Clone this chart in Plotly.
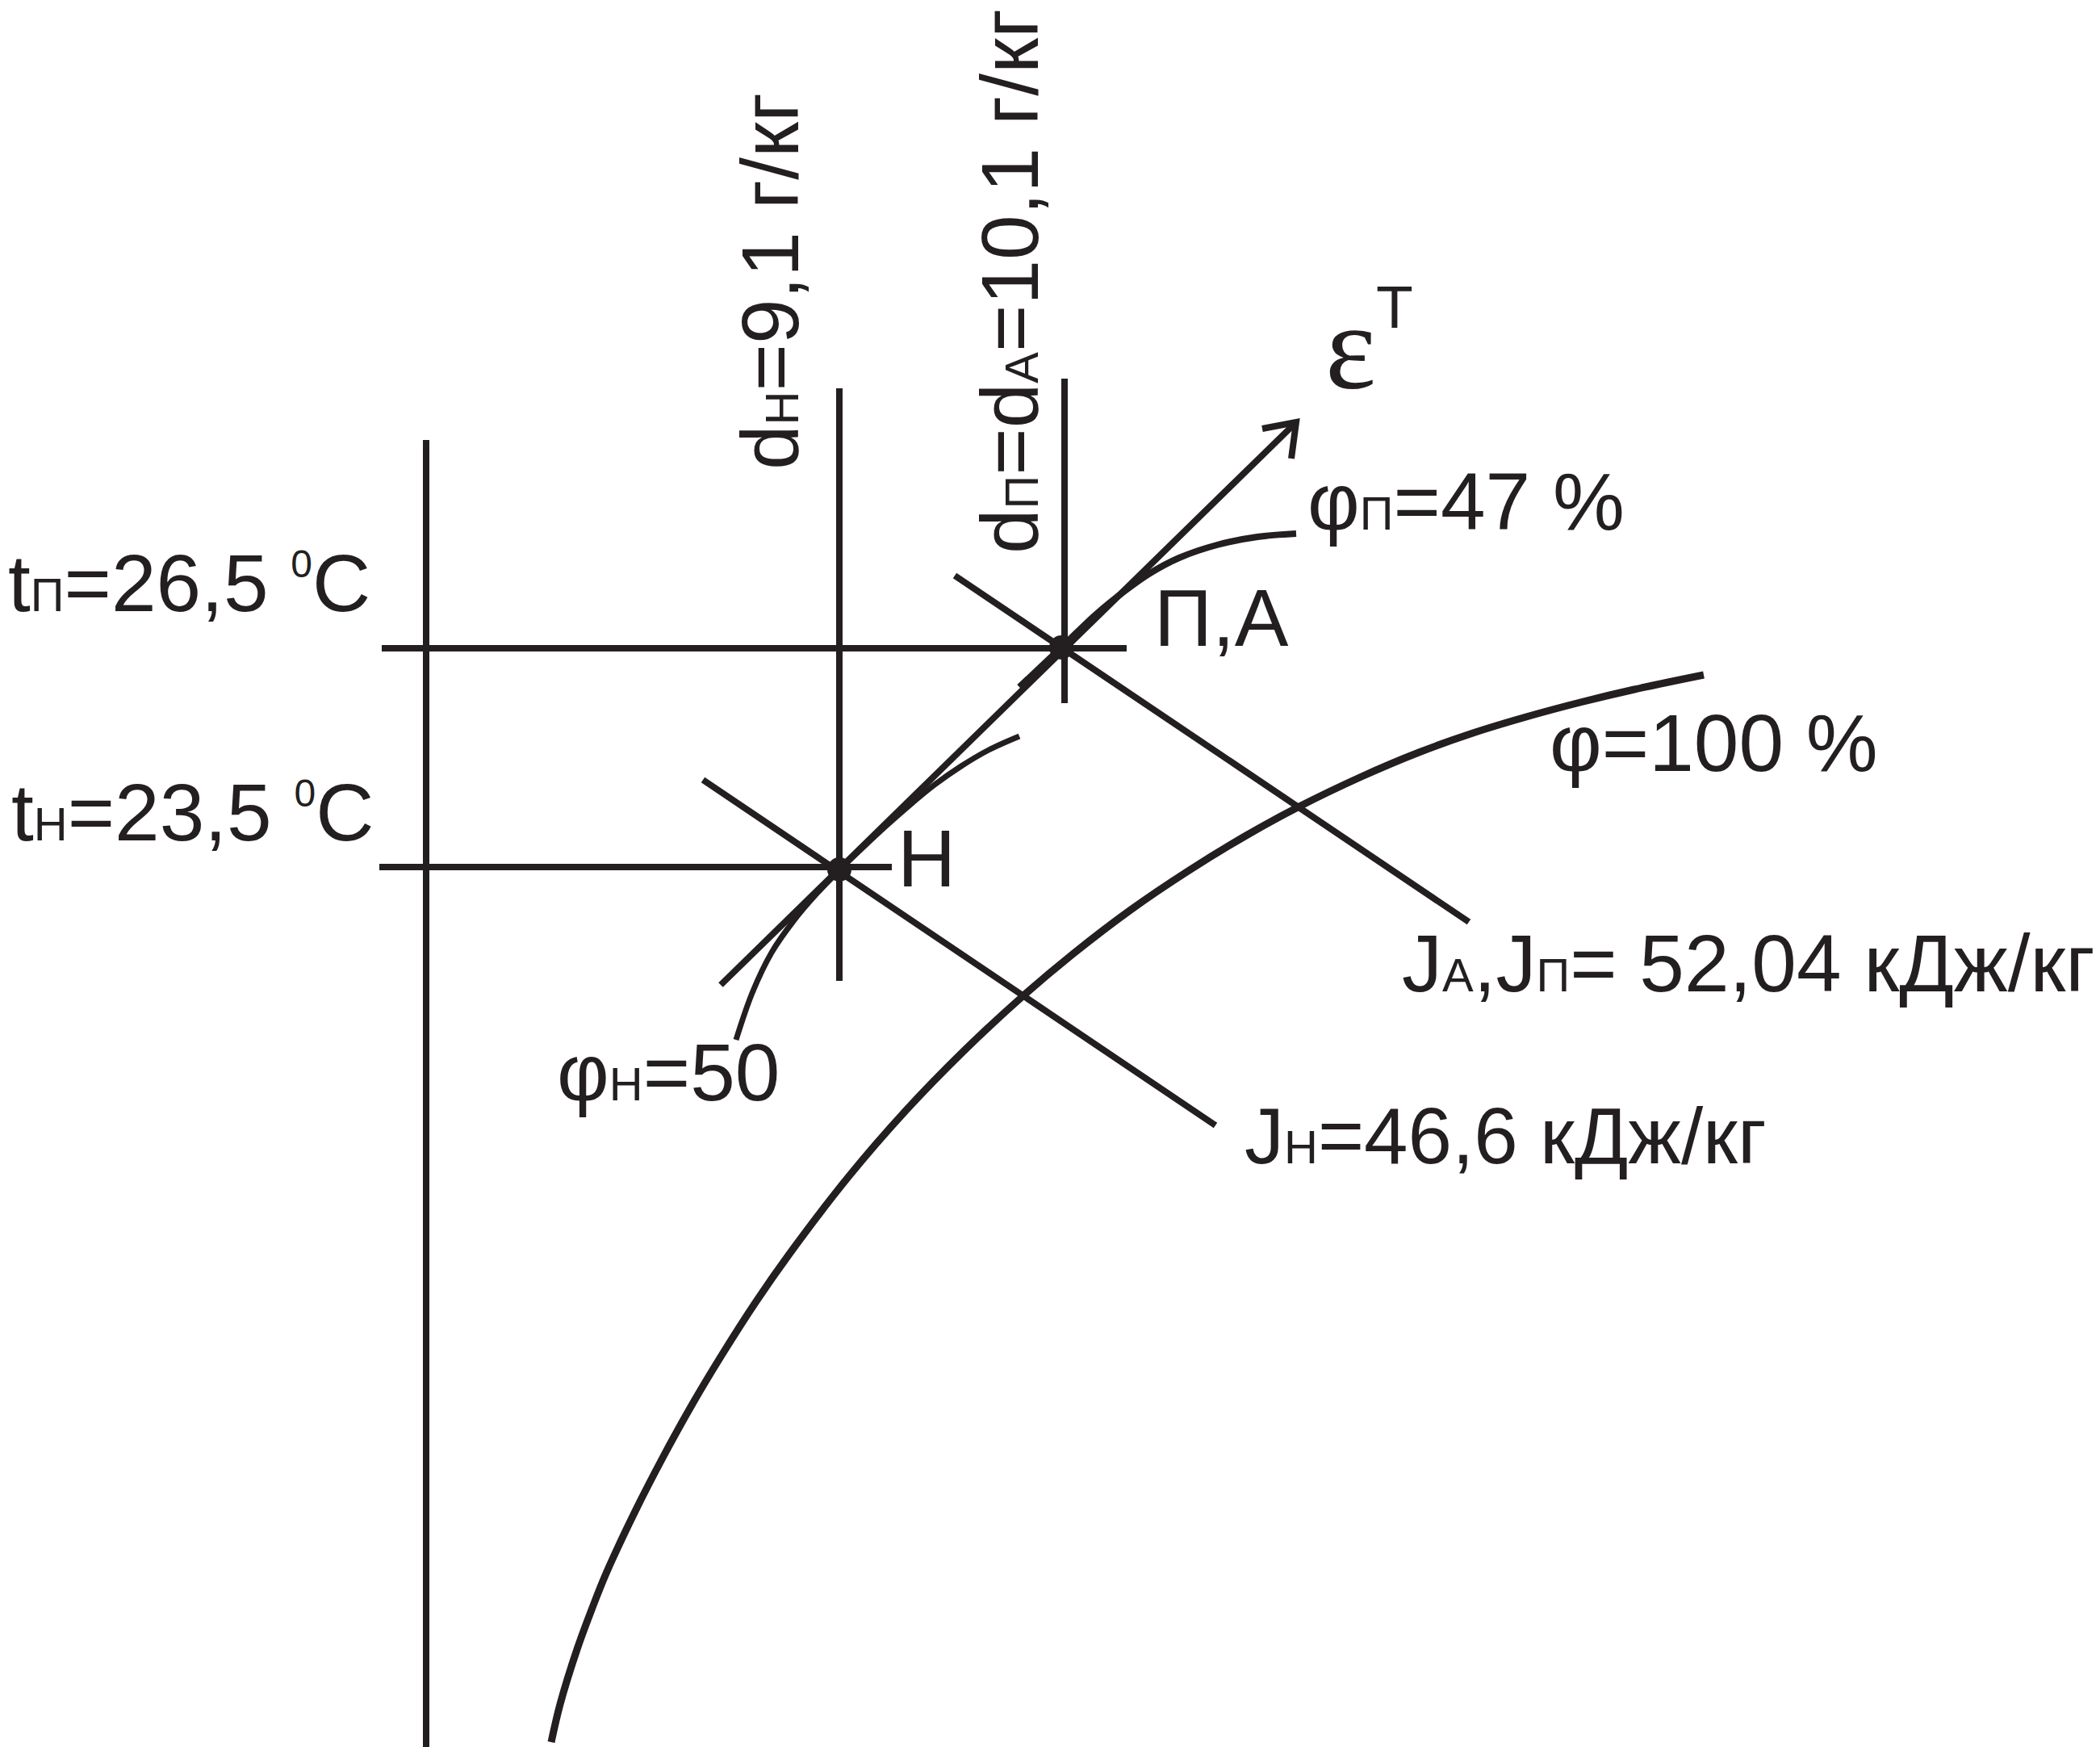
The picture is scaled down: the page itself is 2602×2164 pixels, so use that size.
import plotly.graph_objects as go

INK = "#231f20"
FONT = "Liberation Sans, Arial"
W, H = 2602, 2164

# ---- schematic geometry (drawing units, y grows downward) ----
axis_t_x = [520, 520]
axis_t_y = [537, 2160]
dH_x = [1032, 1032]
dH_y = [473, 1207]
dP_x = [1311, 1311]
dP_y = [461, 863]
tP_x = [465, 1388]
tP_y = [795, 795]
tH_x = [462, 1097]
tH_y = [1066, 1066]
JA_x = [1175, 1812]
JA_y = [705, 1134]
JH_x = [863, 1498]
JH_y = [958, 1386]
eps_x = [885, 1598]
eps_y = [1212, 515]
arrow_x = [1556, 1598, 1592]
arrow_y = [523, 515, 560]
phiH_x = [904, 924, 948, 975, 1003, 1032, 1060, 1090, 1123, 1150, 1183, 1217, 1255]
phiH_y = [1280, 1222, 1172, 1133, 1100, 1070, 1043, 1015, 986, 964, 941, 921, 904]
phiP_x = [1255, 1307, 1350, 1387, 1417, 1453, 1500, 1550, 1598]
phiP_y = [843, 794, 753, 723, 702, 683, 667, 657, 653]
sat_x = [675, 686, 707, 725, 743, 779, 814, 850, 886, 929, 971, 1043, 1114, 1186, 1257,
         1321, 1393, 1464, 1536, 1600, 1679, 1750, 1817, 1883, 1950, 2017, 2103]
sat_y = [2150, 2103, 2035, 1986, 1941, 1864, 1796, 1731, 1671, 1604, 1544, 1450, 1368, 1294, 1228,
         1174, 1119, 1071, 1027, 992, 954, 924, 900, 880, 862, 846, 828]
points_x = [1032, 1307]
points_y = [1069, 794]

fig = go.Figure()

def line(xs, ys, w=8, shape="linear"):
    fig.add_trace(go.Scatter(x=xs, y=ys, mode="lines",
                             line=dict(color=INK, width=w, shape=shape, smoothing=1.0),
                             hoverinfo="skip"))

line(axis_t_x, axis_t_y)
line(dH_x, dH_y)
line(dP_x, dP_y)
line(tP_x, tP_y)
line(tH_x, tH_y)
line(JA_x, JA_y)
line(JH_x, JH_y)
line(eps_x, eps_y)
line(arrow_x, arrow_y)
line(phiH_x, phiH_y, 7, "spline")
line(phiP_x, phiP_y, 8, "spline")
line(sat_x, sat_y, 9, "spline")
fig.add_trace(go.Scatter(x=points_x, y=points_y, mode="markers",
                         marker=dict(color=INK, size=30), hoverinfo="skip"))

def sm(s, px=58):
    return f"<span style='font-size:{px}px'>{s}</span>"

def ann(x, y, text, size=100, xanchor="left", yanchor="middle", angle=0, family=FONT):
    fig.add_annotation(x=x, y=y, xref="x", yref="y", text=text, showarrow=False,
                       xanchor=xanchor, yanchor=yanchor, textangle=angle,
                       font=dict(family=family, size=size, color=INK))

sup0 = "<sup>" + sm("0", 48) + "</sup>"
ann(0, 714, "t" + sm("П") + "=26,5 " + sup0 + "C")
ann(4, 998, "t" + sm("Н") + "=23,5 " + sup0 + "C")
ann(946, 341, "d" + sm("Н") + "=9,1 г/кг", angle=-90, xanchor="center", yanchor="middle")
ann(1243, 341, "d" + sm("П") + "=d" + sm("А") + "=10,1 г/кг", angle=-90, xanchor="center", yanchor="middle")
ann(1420, 757, "П,А")
ann(1102, 1055, "Н")
ann(1610, 613, "φ" + sm("П") + "=47 %")
ann(1910, 912, "φ=100 %")
ann(1727, 1185, "J" + sm("А") + ",J" + sm("П") + "= 52,04 кДж/кг", size=100)
ann(1532, 1399, "J" + sm("Н") + "=46,6 кДж/кг", size=98)
ann(680, 1320, "φ" + sm("Н") + "=50")
ann(1632, 422, "ε", size=150, family="Liberation Serif, DejaVu Serif")
ann(1695, 372, "Т", size=75)

fig.update_layout(width=W, height=H, margin=dict(l=0, r=0, t=0, b=0),
                  paper_bgcolor="white", plot_bgcolor="white", showlegend=False,
                  xaxis=dict(range=[0, W], visible=False, fixedrange=True),
                  yaxis=dict(range=[H, 0], visible=False, fixedrange=True))
fig.write_html("out.html")
